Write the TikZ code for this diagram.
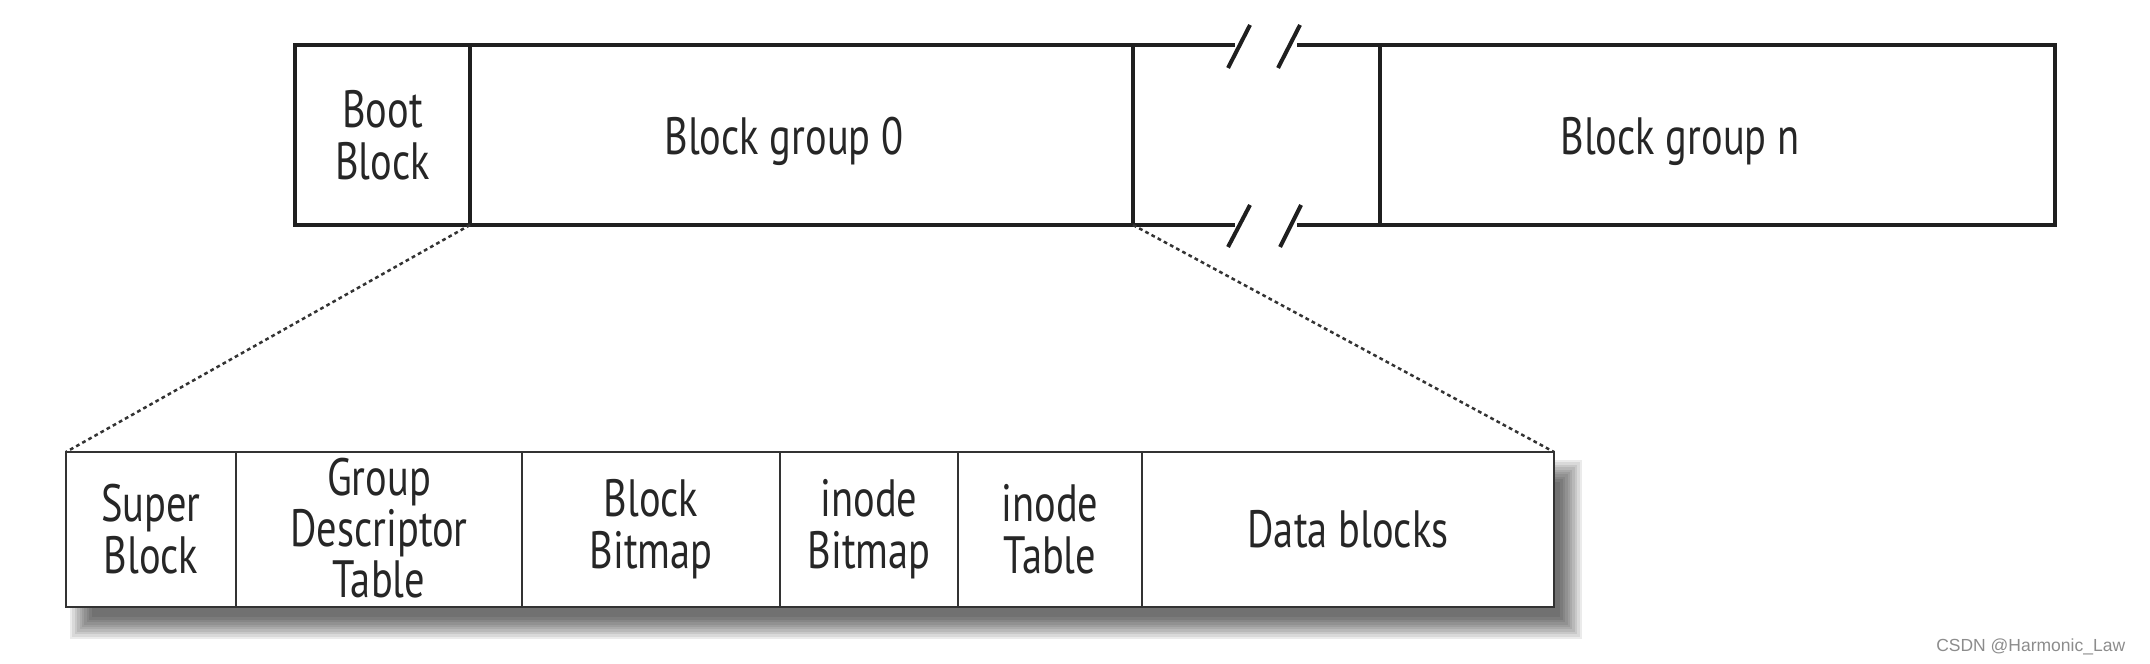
\documentclass[tikz,border=0pt]{standalone}
\usepackage{fontspec}
\setmainfont{PT Sans}[FakeStretch=0.77]
\newfontfamily\wmfont{Liberation Sans}
\newcommand{\shifted}[3]{\hspace*{#1}\raisebox{#2}[\height][\depth]{#3}}
\begin{document}
\begin{tikzpicture}[x=0.4pt,y=-0.4pt,
  cell/.style 2 args={minimum width=#1*0.4pt, minimum height=#2*0.4pt, inner sep=0pt, outer sep=0pt, align=center},
  txt/.style={font=\fontsize{21}{20.8}\selectfont, text=black!85},
  topline/.style={line width=1.6pt, draw=black!88},
  topcell/.style={cell={#1}{180}, txt, topline},
  botcell/.style={cell={#1}{155}, txt, draw=black!80, line width=1pt, fill=white},
  zoomline/.style={draw=black!80, line width=1pt, dash pattern=on 1.5pt off 1.3pt}]
\useasboundingbox (0,0) rectangle (2150,664);
% top bar
\node[topcell=175] (boot) at (382.5,135) {Boot\\Block};
\node[topcell=663] (bg0) at (801.5,135) {\shifted{-14pt}{-2.4pt}{Block group 0}};
\node[topcell=675] (bgn) at (1717.5,135) {\shifted{-30pt}{-2.4pt}{Block group n}};
\draw[topline] (bg0.north east) -- (1235,45);
\draw[topline] (1297,45) -- (bgn.north west);
\draw[topline] (bg0.south east) -- (1235,225);
\draw[topline] (1297,225) -- (bgn.south west);
\draw[topline] (1228,68) -- (1250,25);
\draw[topline] (1278,68) -- (1300,25);
\draw[topline] (1228,247) -- (1250,205);
\draw[topline] (1280,247) -- (1301,205);
% shadow of lower bar
\foreach \i in {0,...,9}{
  \pgfmathsetmacro{\e}{12-2.4*\i}
  \fill[black, opacity=0.08] (82-\e,472-\e) rectangle (1570+\e,627+\e);
}
% lower bar
\node[botcell=170] (sb) at (151,529.5) {Super\\Block};
\node[botcell=286, font=\fontsize{21}{18.6}\selectfont] (gdt) at (379,529.5) {\raisebox{-2pt}[\height][\depth]{\begin{tabular}{@{}c@{}}Group\\Descriptor\\Table\end{tabular}}};
\node[botcell=258] (bb) at (651,529.5) {Block\\Bitmap};
\node[botcell=178] (ib) at (869,529.5) {inode\\Bitmap};
\node[botcell=184] (it) at (1050,529.5) {inode\\Table};
\node[botcell=412] (db) at (1348,529.5) {Data blocks};
% zoom lines
\draw[zoomline] (bg0.south west) -- (sb.north west);
\draw[zoomline] (bg0.south east) -- (db.north east);
% watermark
\node[font=\wmfont\fontsize{7}{8}\selectfont, text=black!45, anchor=east] (wm) at (2134,647) {CSDN @Harmonic\_Law};
\end{tikzpicture}
\end{document}
